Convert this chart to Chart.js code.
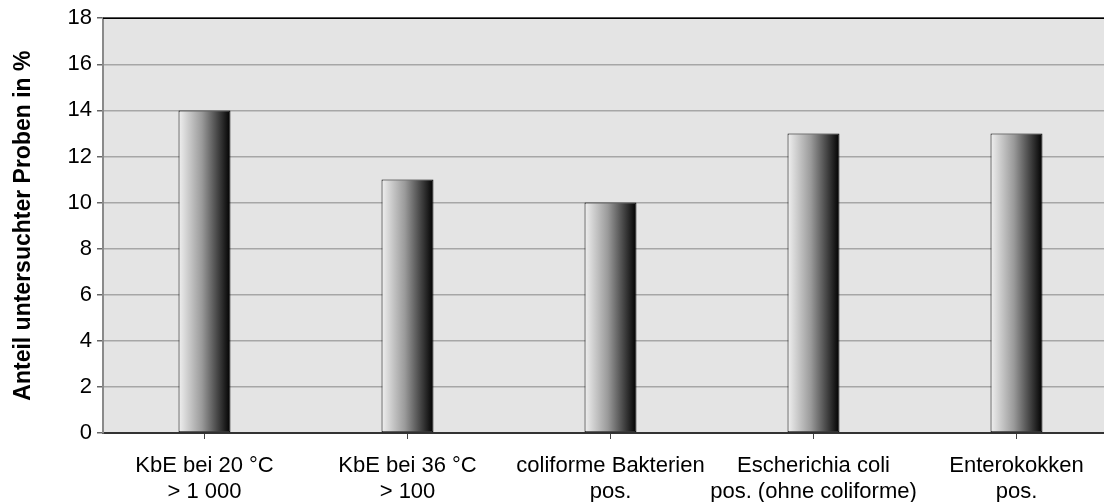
<!DOCTYPE html>
<html lang="de">
<head>
<meta charset="utf-8">
<title>Anteil untersuchter Proben</title>
<script src="https://cdn.jsdelivr.net/npm/chart.js@4/dist/chart.umd.min.js"></script>
<style>
  html, body { margin: 0; padding: 0; background: #ffffff; overflow: hidden; }
  #wrap { width: 1120px; height: 502px; }
</style>
</head>
<body>
<div id="wrap"><canvas id="chart" width="1120" height="502"></canvas></div>
<script>
// Kategorien (zweizeilige Beschriftung)
const categories = [
  ['KbE bei 20 \u00B0C', '> 1 000'],
  ['KbE bei 36 \u00B0C', '> 100'],
  ['coliforme Bakterien', 'pos.'],
  ['Escherichia coli', 'pos. (ohne coliforme)'],
  ['Enterokokken', 'pos.']
];
// Anteil in %
const shareValues = [14, 11, 10, 13, 13];
// Achsenbereich der y-Achse
const yTicks = { min: 0, max: 18, step: 2 };

const FONT = "'Liberation Sans', Arial, sans-serif";
const BAR_PCT = 0.256;

// Horizontaler Verlauf hell -> schwarz je Balken
function barGradient(ctx) {
  const chart = ctx.chart;
  const xs = chart.scales && chart.scales.x;
  if (!xs || !chart.chartArea) return '#888888';
  const cx = xs.getPixelForValue(ctx.dataIndex);
  const w = xs.width / categories.length * BAR_PCT;
  const g = chart.ctx.createLinearGradient(cx - w / 2, 0, cx + w / 2, 0);
  g.addColorStop(0, '#f0f0f0');
  g.addColorStop(0.45, '#9a9a9a');
  g.addColorStop(1, '#000000');
  return g;
}

// Grauer Hintergrund und obere Rahmenlinie der Zeichenfläche
const plotFrame = {
  id: 'plotFrame',
  beforeDraw(chart) {
    const a = chart.chartArea, c = chart.ctx;
    c.save();
    c.fillStyle = '#e4e4e4';
    c.fillRect(a.left, a.top, a.right - a.left, a.bottom - a.top);
    c.restore();
  },
  afterDraw(chart) {
    const a = chart.chartArea, c = chart.ctx;
    c.save();
    c.strokeStyle = '#000000';
    c.lineWidth = 1.5;
    c.beginPath();
    c.moveTo(a.left, a.top);
    c.lineTo(a.right, a.top);
    c.stroke();
    c.restore();
  }
};

new Chart(document.getElementById('chart'), {
  type: 'bar',
  data: {
    labels: categories,
    datasets: [{
      data: shareValues,
      backgroundColor: barGradient,
      borderColor: '#000000',
      borderWidth: 1,
      borderSkipped: false,
      categoryPercentage: 1,
      barPercentage: BAR_PCT
    }]
  },
  options: {
    responsive: false,
    animation: false,
    layout: { padding: { top: 18, right: 2, left: 0, bottom: 0 } },
    plugins: { legend: { display: false }, tooltip: { enabled: false } },
    scales: {
      x: {
        afterFit(scale) { scale.height = 69; },
        grid: {
          display: true,
          drawOnChartArea: false,
          drawTicks: true,
          offset: false,
          tickLength: 6,
          color: '#444444'
        },
        border: { display: true, color: '#333333', width: 2 },
        ticks: {
          color: '#000000',
          padding: 14,
          maxRotation: 0,
          autoSkip: false,
          font: { family: FONT, size: 22, lineHeight: '26px' }
        }
      },
      y: {
        min: yTicks.min,
        max: yTicks.max,
        afterFit(scale) { scale.width = 103; },
        grid: {
          color: '#a6a6a6',
          lineWidth: 1.5,
          tickLength: 6,
          tickColor: '#666666'
        },
        border: { display: true, color: '#8a8a8a', width: 2 },
        ticks: {
          stepSize: yTicks.step,
          color: '#000000',
          padding: 5,
          font: { family: FONT, size: 22 }
        },
        title: {
          display: true,
          text: 'Anteil untersuchter Proben in %',
          color: '#000000',
          padding: { top: 10, bottom: 0 },
          font: { family: FONT, size: 23, weight: 'bold', lineHeight: 1.2 }
        }
      }
    }
  },
  plugins: [plotFrame]
});
</script>
</body>
</html>
